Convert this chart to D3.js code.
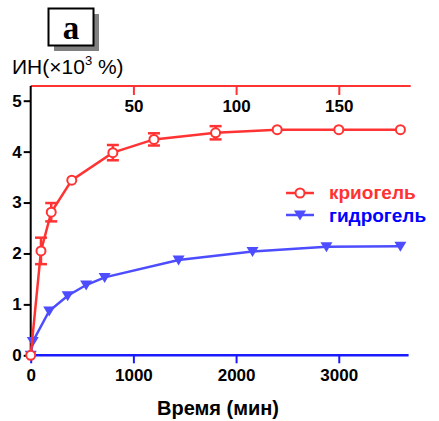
<!DOCTYPE html>
<html>
<head>
<meta charset="utf-8">
<script src="https://cdn.jsdelivr.net/npm/d3@7"></script>
<style>
  body { margin: 0; background: #fff; }
  svg text { font-family: "Liberation Sans", Arial, sans-serif; }
</style>
</head>
<body>
<div class="chart"></div>
<script>
const w = 439;
const h = 421;

// криогель: time on top axis (min)
const cryoTime = [0, 5, 10, 20, 40, 60, 90, 120, 150, 180];
const cryoVal = [0, 2.05, 2.81, 3.44, 3.98, 4.24, 4.37, 4.43, 4.43, 4.43];
const cryoErr = [0, 0.26, 0.18, 0, 0.15, 0.12, 0.13, 0, 0, 0];

// гидрогель: time on bottom axis (min)
const hydroTime = [0, 20, 180, 360, 540, 720, 1440, 2160, 2880, 3600];
const hydroVal = [0, 0.27, 0.87, 1.17, 1.38, 1.53, 1.87, 2.04, 2.13, 2.14];

const yTicks = [0, 1, 2, 3, 4, 5];
const bottomTicks = [0, 1000, 2000, 3000];
const topTicks = [50, 100, 150];

const red = '#ff3333';
const blue = '#4d4dff';
const fmt = d3.format('d');

const svg = d3.select('div.chart')
  .append('svg')
  .attr('width', w)
  .attr('height', h);

const xBottom = d3.scaleLinear().domain([0, 3680]).range([30.7, 408.6]);
const xTop = d3.scaleLinear().domain([0, 185]).range([30.7, 410.7]);
const y = d3.scaleLinear().domain([0, 5]).range([355.3, 100.7]);
const yTop = 86;

// title box "a"
svg.append('rect')
  .attr('x', 54).attr('y', 14).attr('width', 45).attr('height', 37)
  .attr('fill', '#808080');
svg.append('rect')
  .attr('x', 48.5).attr('y', 8.5).attr('width', 45).attr('height', 37)
  .attr('fill', '#fff').attr('stroke', '#000').attr('stroke-width', 2);
svg.append('text')
  .text('a')
  .attr('x', 71).attr('y', 39)
  .attr('text-anchor', 'middle')
  .style('font-family', '"Liberation Serif", "Times New Roman", serif')
  .attr('font-weight', 'bold')
  .attr('font-size', 33);

// y axis title
const yt = svg.append('text')
  .attr('x', 12).attr('y', 74)
  .attr('font-size', 21)
  .attr('fill', '#000');
yt.append('tspan').text('ИН(×10');
yt.append('tspan').text('3').attr('font-size', 13).attr('dy', -9);
yt.append('tspan').text(' %)').attr('dy', 9);

function styleTicks(g) {
  g.selectAll('.tick text').attr('fill', '#000').attr('font-size', 17).attr('font-weight', 'bold')
    .style('font-family', '"Liberation Sans", Arial, sans-serif');
}

// top axis (криогель)
const topAxis = d3.axisBottom(xTop).tickValues(topTicks).tickFormat(fmt)
  .tickSize(9).tickSizeOuter(0).tickPadding(5);
const gt = svg.append('g')
  .attr('transform', 'translate(0,' + yTop + ')')
  .call(topAxis);
gt.select('.domain').attr('stroke', red).attr('stroke-width', 2)
  .attr('d', 'M' + xTop(0) + ',0H' + xTop(185));
gt.selectAll('.tick line').attr('stroke', red).attr('stroke-width', 2);
styleTicks(gt);

// left axis
const leftAxis = d3.axisLeft(y).tickValues(yTicks).tickFormat(fmt)
  .tickSize(7).tickSizeOuter(0).tickPadding(2);
const gl = svg.append('g')
  .attr('transform', 'translate(' + xBottom(0) + ',0)')
  .call(leftAxis);
gl.select('.domain').attr('stroke', '#000').attr('stroke-width', 2)
  .attr('d', 'M0,' + yTop + 'V' + y(0));
gl.selectAll('.tick line').attr('stroke', '#000').attr('stroke-width', 2);
styleTicks(gl);

// bottom axis (гидрогель)
const bottomAxis = d3.axisBottom(xBottom).tickValues(bottomTicks).tickFormat(fmt)
  .tickSize(8).tickSizeOuter(0).tickPadding(6);
const gb = svg.append('g')
  .attr('transform', 'translate(0,' + y(0) + ')')
  .call(bottomAxis);
gb.select('.domain').attr('stroke', '#1a1aff').attr('stroke-width', 2.5)
  .attr('d', 'M' + xBottom(0) + ',0H' + xBottom(3680));
gb.selectAll('.tick line').attr('stroke', '#1a1aff').attr('stroke-width', 2);
styleTicks(gb);

svg.append('text')
  .text('Время (мин)')
  .attr('x', 218).attr('y', 415)
  .attr('text-anchor', 'middle')
  .attr('font-size', 20)
  .attr('font-weight', 'bold')
  .attr('fill', '#000');

// hydrogel series
const hydro = hydroTime.map((t, i) => ({x: t, y: hydroVal[i]}));
svg.append('path')
  .datum(hydro)
  .attr('fill', 'none')
  .attr('stroke', blue)
  .attr('stroke-width', 2.5)
  .attr('d', d3.line().x(d => xBottom(d.x)).y(d => y(d.y)));

const tri = 'M-6,-4.5L6,-4.5L0,5.5Z';
svg.selectAll('path.tri')
  .data(hydro)
  .enter()
  .append('path')
  .attr('class', 'tri')
  .attr('d', tri)
  .attr('fill', blue)
  .attr('transform', d => 'translate(' + xBottom(d.x) + ',' + y(d.y) + ')');

// cryogel series
const cryo = cryoTime.map((t, i) => ({x: t, y: cryoVal[i], e: cryoErr[i]}));
svg.append('path')
  .datum(cryo)
  .attr('fill', 'none')
  .attr('stroke', red)
  .attr('stroke-width', 2.5)
  .attr('d', d3.line().x(d => xTop(d.x)).y(d => y(d.y)));

const eb = svg.selectAll('g.err')
  .data(cryo.filter(d => d.e > 0))
  .enter()
  .append('g')
  .attr('class', 'err')
  .attr('stroke', red)
  .attr('stroke-width', 2.5);
eb.append('line')
  .attr('x1', d => xTop(d.x)).attr('x2', d => xTop(d.x))
  .attr('y1', d => y(d.y + d.e)).attr('y2', d => y(d.y - d.e));
eb.append('line')
  .attr('x1', d => xTop(d.x) - 6).attr('x2', d => xTop(d.x) + 6)
  .attr('y1', d => y(d.y + d.e)).attr('y2', d => y(d.y + d.e));
eb.append('line')
  .attr('x1', d => xTop(d.x) - 6).attr('x2', d => xTop(d.x) + 6)
  .attr('y1', d => y(d.y - d.e)).attr('y2', d => y(d.y - d.e));

svg.selectAll('circle.cryo')
  .data(cryo)
  .enter()
  .append('circle')
  .attr('class', 'cryo')
  .attr('cx', d => xTop(d.x))
  .attr('cy', d => y(d.y))
  .attr('r', 4.5)
  .attr('fill', '#fff')
  .attr('stroke', red)
  .attr('stroke-width', 2);

// legend
const lg = svg.append('g');
lg.append('line').attr('x1', 286).attr('x2', 314).attr('y1', 193).attr('y2', 193)
  .attr('stroke', red).attr('stroke-width', 2.5);
lg.append('circle').attr('cx', 300).attr('cy', 193).attr('r', 4.5)
  .attr('fill', '#fff').attr('stroke', red).attr('stroke-width', 2);
lg.append('text').text('криогель')
  .attr('x', 329).attr('y', 199)
  .attr('font-size', 19).attr('font-weight', 'bold').attr('fill', red);

lg.append('line').attr('x1', 286).attr('x2', 314).attr('y1', 215).attr('y2', 215)
  .attr('stroke', blue).attr('stroke-width', 2.5);
lg.append('path').attr('d', tri).attr('fill', blue)
  .attr('transform', 'translate(300,215)');
lg.append('text').text('гидрогель')
  .attr('x', 329).attr('y', 222)
  .attr('font-size', 19).attr('font-weight', 'bold').attr('fill', '#0000ff');
</script>
</body>
</html>
